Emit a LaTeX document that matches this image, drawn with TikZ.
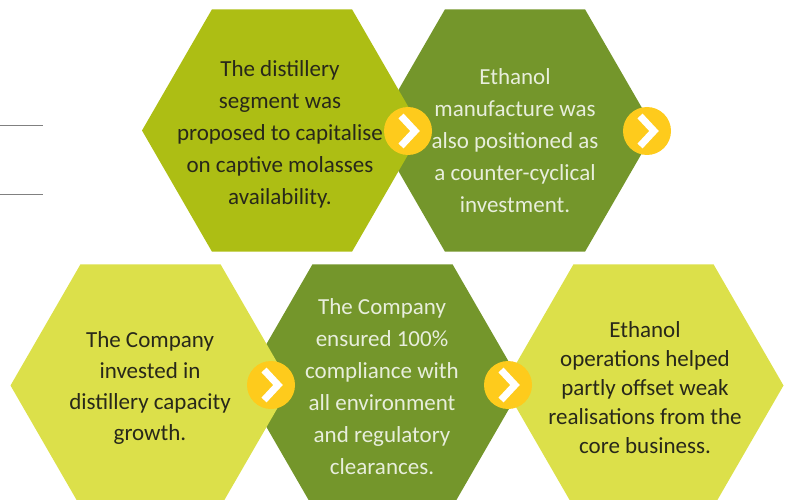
\documentclass[tikz,border=0pt]{standalone}
\usepackage{fontspec}
\setmainfont{Carlito}
\usetikzlibrary{shapes.geometric}
\definecolor{olivehex}{RGB}{173,190,20}
\definecolor{greenhex}{RGB}{116,150,43}
\definecolor{limehex}{RGB}{220,224,74}
\definecolor{knobfill}{RGB}{254,203,28}
\definecolor{darktxt}{RGB}{40,40,26}
\definecolor{lighttxt}{RGB}{232,238,220}
\definecolor{rulegray}{RGB}{128,128,128}
\begin{document}
\begin{tikzpicture}[x=1pt,y=-1pt,
  hexa/.style={regular polygon,regular polygon sides=6,minimum size=280pt,inner sep=0pt,outer sep=0pt},
  txt/.style={align=center,inner sep=0pt,font=\fontsize{23}{32}\selectfont},
  knob/.style={circle,fill=knobfill,minimum size=48pt,inner sep=0pt},
  chev/.style={draw=white,line width=7pt,miter limit=10}]
\useasboundingbox (0,0) rectangle (790,500);

%Straight Lines
\draw [rulegray, line width=1pt] (0,126) -- (43,126) ;
\draw [rulegray, line width=1pt] (0,194) -- (43,194) ;

%Shape: Hexagon
\node [hexa, fill=greenhex] (h2) at (515,130.5) {};
\node [hexa, fill=olivehex] (h1) at (282,130.5) {};
\node [hexa, fill=greenhex] (h4) at (382.5,385.5) {};
\node [hexa, fill=limehex] (h3) at (150.5,385.5) {};
\node [hexa, fill=limehex] (h5) at (643.5,385.5) {};

% Text Node
\node [txt, text=darktxt] (t1) at (280,134.5) {The distillery\\segment was\\proposed to capitalise\\on captive molasses\\availability.};
% Text Node
\node [txt, text=lighttxt] (t2) at (515,140.5) {Ethanol\\manufacture was\\also positioned as\\a counter-cyclical\\investment.};
% Text Node
\node [txt, text=darktxt, font=\fontsize{23}{31}\selectfont] (t3) at (150,388) {The Company\\invested in\\distillery capacity\\growth.};
% Text Node
\node [txt, text=lighttxt] (t4) at (382,387) {The Company\\ensured 100\%\\compliance with\\all environment\\and regulatory\\clearances.};
% Text Node
\node [txt, text=darktxt, font=\fontsize{23}{29}\selectfont] (t5) at (645,387.5) {Ethanol\\operations helped\\partly offset weak\\realisations from the\\core business.};

%Shape: Circle
\node [knob] (c1) at (408,131) {};
\node [knob] (c2) at (647,131) {};
\node [knob] (c3) at (271,385) {};
\node [knob] (c4) at (508,385) {};
\foreach \c in {c1,c2,c3,c4}
  \draw [chev] ([shift={(-7,-15)}]\c.center) -- ([shift={(7,0)}]\c.center) -- ([shift={(-7,15)}]\c.center) ;

\end{tikzpicture}
\end{document}
